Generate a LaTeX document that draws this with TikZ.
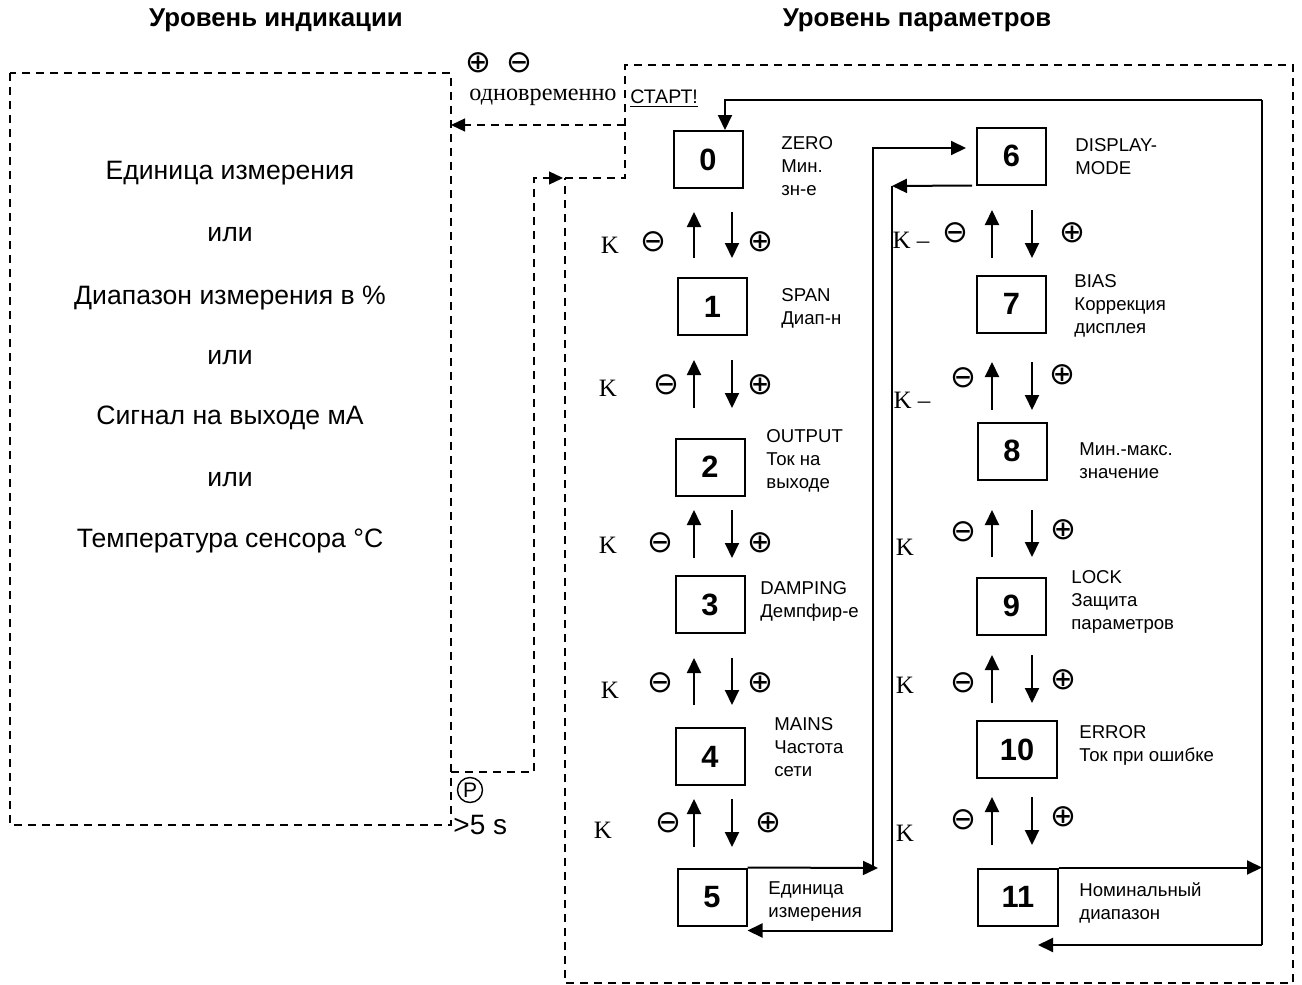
\documentclass[tikz,border=0pt]{standalone}
\usepackage{fontspec}
\setmainfont{Liberation Sans}
\newfontfamily\timesfont{Liberation Serif}
\newfontfamily\dejavu{DejaVu Sans}
\usetikzlibrary{arrows.meta}

\tikzset{
  numbox/.style={draw, line width=1pt, minimum width=34.5pt, minimum height=28.5pt,
    inner sep=0pt, font=\bfseries\fontsize{15.4}{18}\selectfont},
  lbl/.style={anchor=west, align=left, inner sep=0pt, font=\fontsize{9.3}{11.5}\selectfont},
  ind/.style={inner sep=0pt, font=\fontsize{13.3}{16}\selectfont},
  title/.style={inner sep=0pt, font=\bfseries\fontsize{12.9}{15}\selectfont},
  arr/.style={line width=1pt, -{Triangle[length=7.5pt,width=7pt]}},
  dsh/.style={line width=0.6pt, dash pattern=on 4pt off 3pt},
  darr/.style={dsh, -{Triangle[length=7pt,width=6.5pt]}},
  sym/.style={inner sep=0pt, font=\dejavu\fontsize{15.5}{17}\selectfont},
  klbl/.style={inner sep=0pt, font=\timesfont\fontsize{12.5}{14}\selectfont},
}

\begin{document}
\begin{tikzpicture}[x=0.5pt, y=-0.5pt]
\useasboundingbox (0,0) rectangle (1302,985);

% titles
\node[title] (tind) at (276,20) {Уровень индикации};
\node[title] (tpar) at (917,20) {Уровень параметров};

% indication level
\draw[dsh] (10,73) rectangle (451,825);
\node[ind] (i1) at (230,173) {Единица измерения};
\node[ind] (i2) at (230,235) {или};
\node[ind] (i3) at (230,298) {Диапазон измерения в \%};
\node[ind] (i4) at (230,358) {или};
\node[ind] (i5) at (230,418) {Сигнал на выходе мА};
\node[ind] (i6) at (230,480) {или};
\node[ind] (i7) at (230,541) {Температура сенсора °С};

% parameter boxes
\node[numbox] (b0) at (708,159.5) {0};
\node[numbox] (b1) at (712.5,306.5) {1};
\node[numbox] (b2) at (710,467) {2};
\node[numbox] (b3) at (710,604.5) {3};
\node[numbox] (b4) at (710,756.5) {4};
\node[numbox] (b5) at (712,897) {5};
\node[numbox] (b6) at (1011.5,156) {6};
\node[numbox] (b7) at (1011.5,304) {7};
\node[numbox] (b8) at (1012,451) {8};
\node[numbox] (b9) at (1011.5,606) {9};
\node[numbox, minimum width=40pt] (b10) at (1017,749.5) {10};
\node[numbox, minimum width=40pt] (b11) at (1018,897) {11};

\node[lbl] (l0) at (781,166.5) {ZERO\\Мин.\\зн-е};
\node[lbl] (l1) at (781,308.5) {SPAN\\Диап-н};
\node[lbl] (l2) at (766,461) {OUTPUT\\Ток на\\выходе};
\node[lbl] (l3) at (760,601) {DAMPING\\Демпфир-е};
\node[lbl] (l4) at (774,747) {MAINS\\Частота\\сети};
\node[lbl] (l5) at (768,902) {Единица\\измерения};
\node[lbl] (l6) at (1075,157) {DISPLAY-\\MODE};
\node[lbl] (l7) at (1074,306) {BIAS\\Коррекция\\дисплея};
\node[lbl] (l8) at (1079,461) {Мин.-макс.\\значение};
\node[lbl] (l9) at (1071,602) {LOCK\\Защита\\параметров};
\node[lbl] (l10) at (1079,745.5) {ERROR\\Ток при ошибке};
\node[lbl] (l11) at (1079,902.5) {Номинальный\\диапазон};

% start
\node[sym] (plus0) at (478,63) {⊕};
\node[sym] (minus0) at (519,63) {⊖};
\node[inner sep=0pt, font=\timesfont\fontsize{12.1}{14}\selectfont] (simul) at (543,97) {одновременно};
\node[anchor=west, inner sep=0pt, font=\fontsize{9.8}{12}\selectfont] (start) at (630,99) {\underline{СТАРТ!}};
\coordinate (sc) at (625,125);
\draw[darr] (sc) -- (451,125);
\draw[dsh] (565,178) -- (625,178) -- (625,65) -- (1293,65) -- (1293,983) -- (565,983) -- cycle;

% return after P > 5 s
\node[circle, draw, line width=0.7pt, minimum size=12.5pt, inner sep=0pt,
  font=\fontsize{10.5}{11}\selectfont] (pbtn) at (470,790) {P};
\node[anchor=west, inner sep=0pt, font=\fontsize{14}{16}\selectfont] (gt5) at (453,825) {>5 s};
\draw[darr] (451,772) -- (534,772) -- (534,178) -- (563,178);

% K / minus / plus between boxes
\foreach \ya/\yb/\xm/\ym/\xp/\yp/\xk/\yk [count=\i] in
  {212/258/653/242/760/242/610/245, 360/408/666/385/760/385/608/388,
   510/558/660/543/760/543/608/545, 658/705/660/683/760/683/610/690,
   799/847/668/823/768/823/603/830}
{
  \draw[arr] (694,\yb) -- (694,\ya);
  \draw[arr] (732,\ya) -- (732,\yb);
  \node[sym] (mL\i) at (\xm,\ym) {⊖};
  \node[sym] (pL\i) at (\xp,\yp) {⊕};
  \node[klbl] (kL\i) at (\xk,\yk) {K};
}
\foreach \ya/\yb/\xm/\ym/\xp/\yp [count=\i] in
  {210/258/955/233/1072/233, 362/410/963/378/1062/375,
   510/557/963/532/1063/530, 655/703/963/683/1063/680,
   797/845/963/820/1063/817}
{
  \draw[arr] (992,\yb) -- (992,\ya);
  \draw[arr] (1032,\ya) -- (1032,\yb);
  \node[sym] (mR\i) at (\xm,\ym) {⊖};
  \node[sym] (pR\i) at (\xp,\yp) {⊕};
}
\node[klbl] (kR1) at (911,240) {K –};
\node[klbl] (kR2) at (912,400) {K –};
\node[klbl] (kR3) at (905,547) {K};
\node[klbl] (kR4) at (905,685) {K};
\node[klbl] (kR5) at (905,833) {K};

% loops
\coordinate (ne) at (1262,100);
\coordinate (se) at (1262,945);
\coordinate (sw) at (1038,945);
\draw[arr] (b11.north east) -- (b11.north east -| ne);
\draw[line width=1pt] (ne) -- (se);
\draw[arr] (ne) -| ([xshift=8.5pt]b0.north);
\draw[arr] (se) -- (sw);

\coordinate (c5) at (873,868);
\coordinate (c6) at (892,186);
\draw[arr] (b5.north east) -- (878,868);
\draw[arr] (c5) |- ([shift={(-5pt,4pt)}]b6.west);
\draw[arr] ([xshift=-2pt]b6.south west) -- (c6);
\draw[arr] (c6) |- ([yshift=-2pt]b5.south east);
\end{tikzpicture}
\end{document}
